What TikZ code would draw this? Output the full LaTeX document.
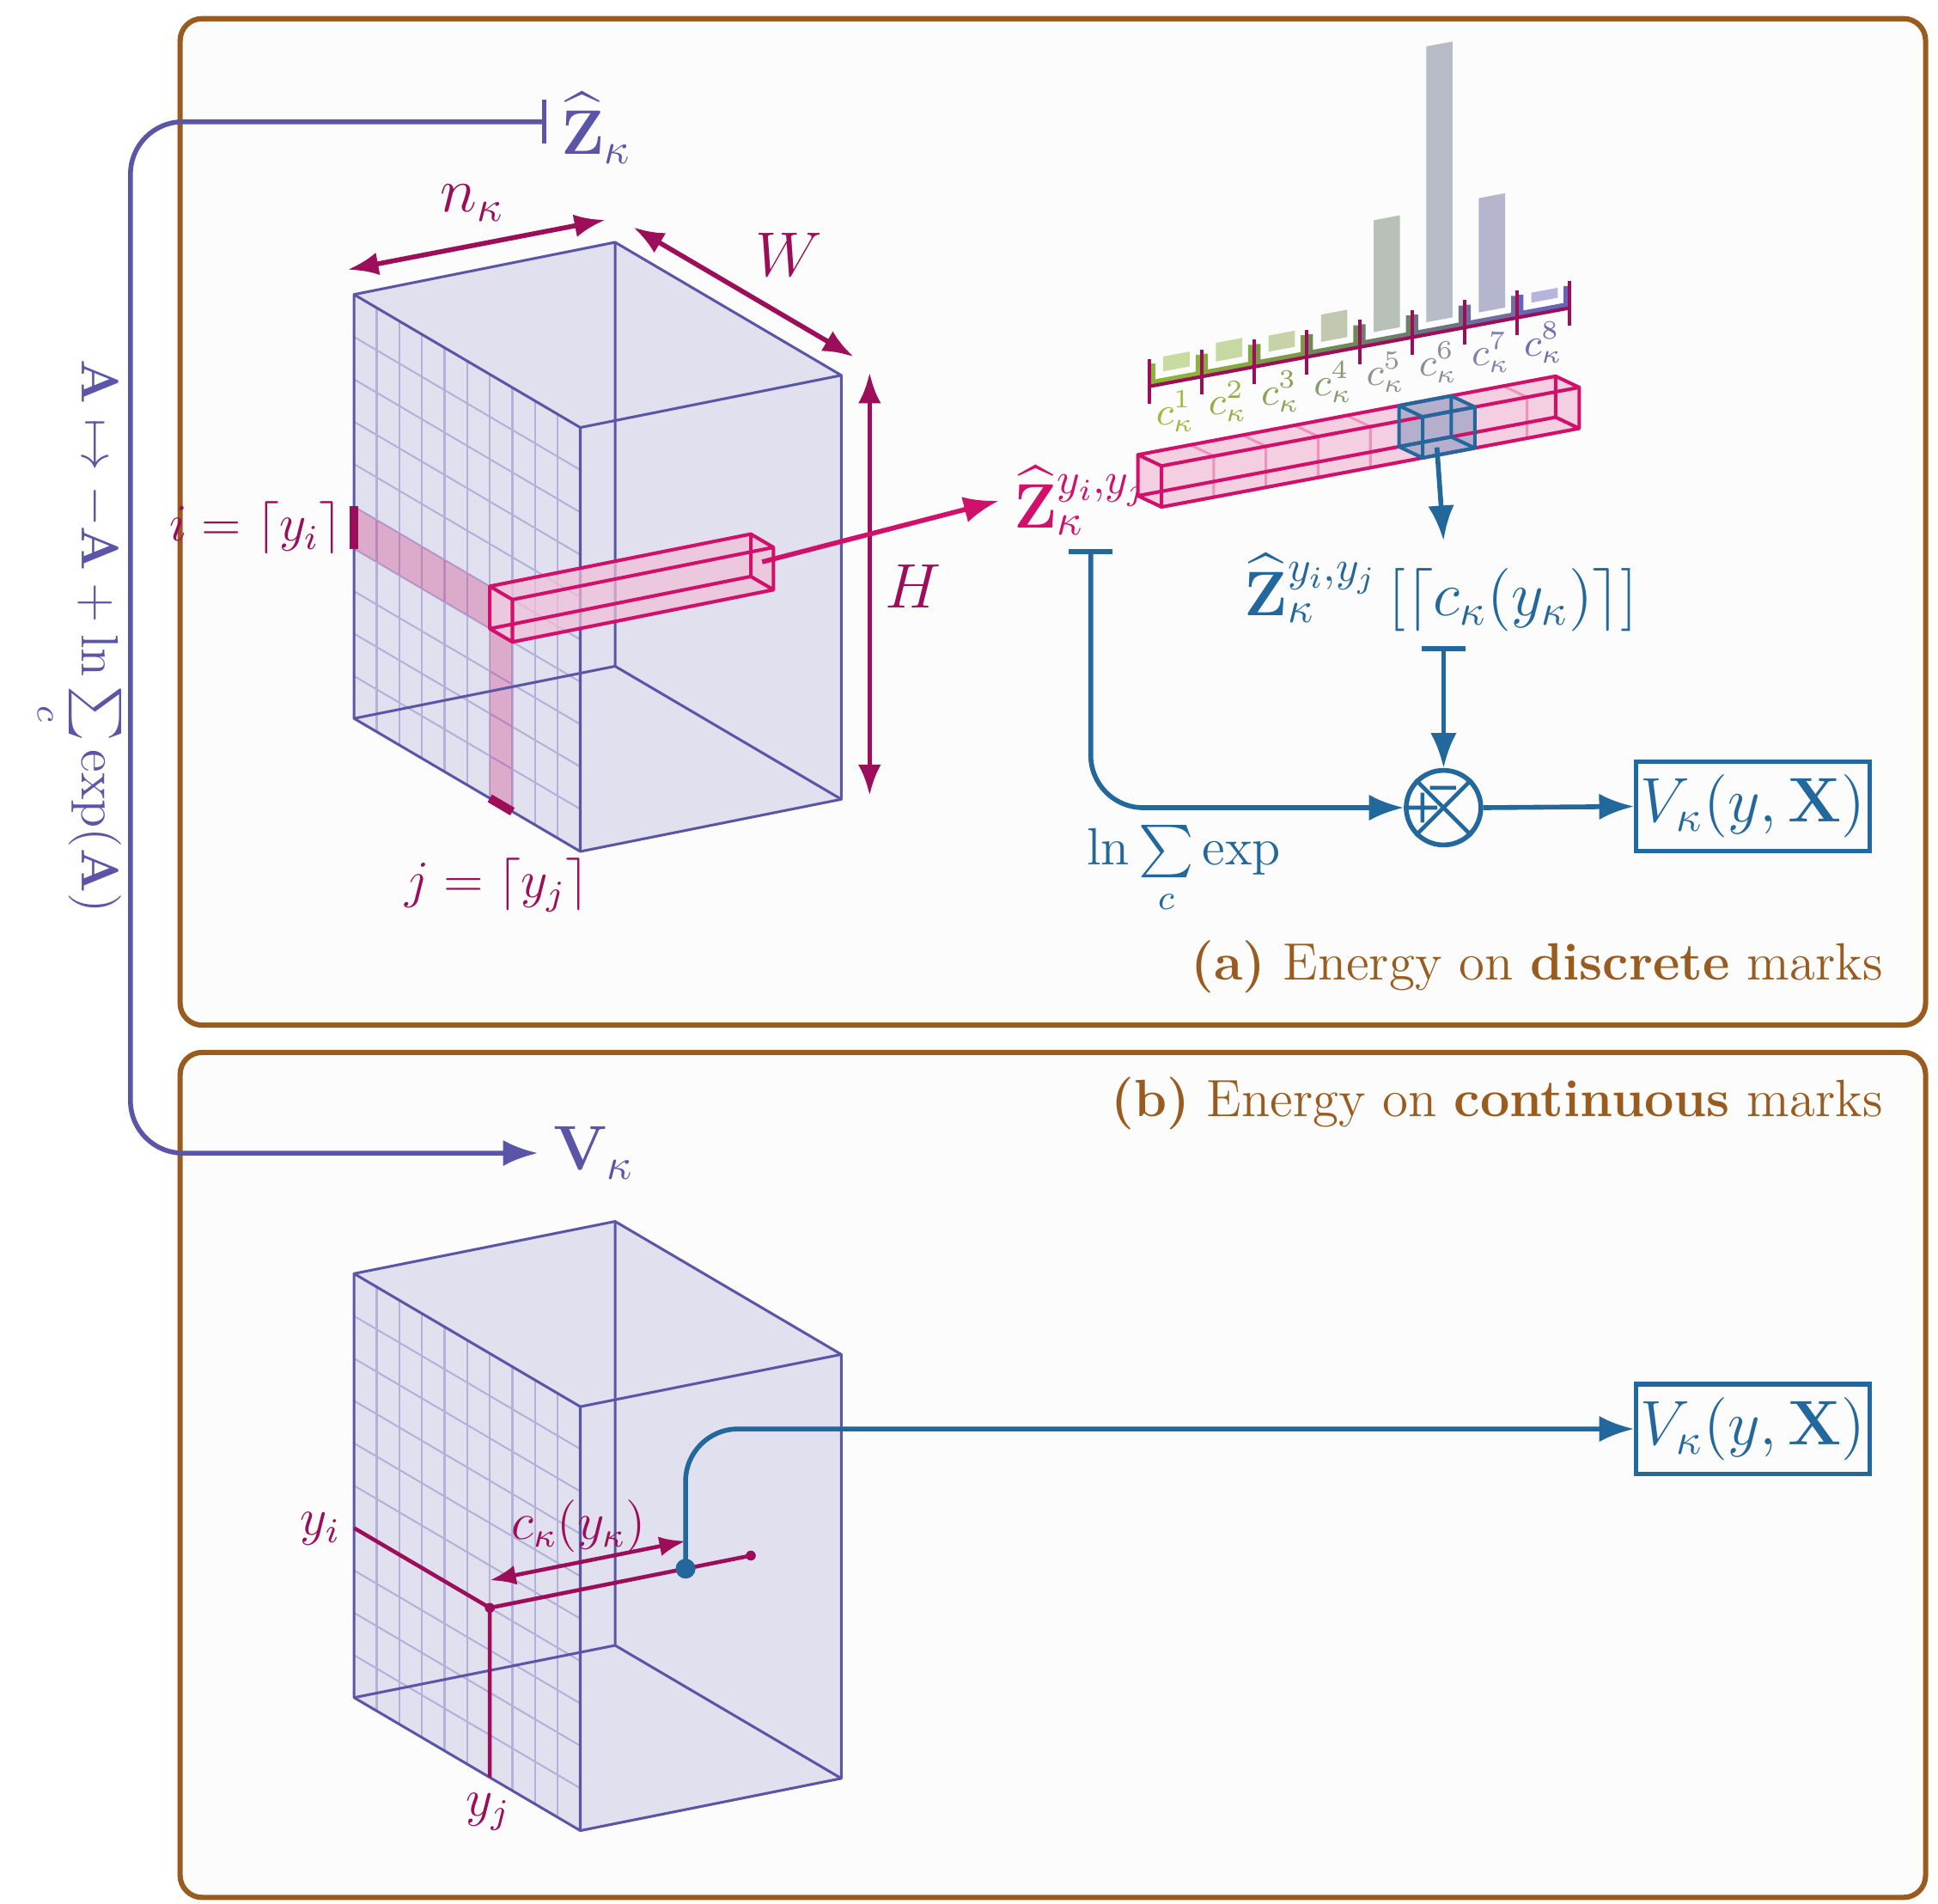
\documentclass[tikz,border=0pt]{standalone}
\usepackage{amsmath,amssymb}
\usetikzlibrary{arrows.meta,positioning,calc}
\definecolor{brownish}{HTML}{9A5B1F}
\definecolor{cubeedge}{HTML}{5B55A8}
\definecolor{cubefill}{HTML}{E1E0EE}
\definecolor{gridc}{HTML}{B3B0DA}
\definecolor{darkmag}{HTML}{9C0D5A}
\definecolor{brightmag}{HTML}{D0106A}
\definecolor{tubefill}{HTML}{F2BFD8}
\definecolor{blueish}{HTML}{23689C}
\tikzset{
  panel/.style={draw=brownish,line width=1.2pt,rounded corners=5pt,fill=black!1},
  cube/.style={draw=cubeedge,line width=0.6pt,line join=round},
  dimarrow/.style={darkmag,line width=1.1pt,{Latex[length=7pt]}-{Latex[length=7pt]}},
  flow/.style={blueish,line width=1.1pt,-{Latex[length=8pt]},rounded corners=12pt},
  vbox/.style={draw=blueish,line width=1pt,text=blueish,minimum width=1.87cm,minimum height=0.72cm,inner sep=1pt,font=\Large},
}
\newcommand\cubebody{%
  \fill[cubefill] (0,0,0) -- (10,0,0) -- (10,10,0) -- (0,10,0) -- cycle;
  \fill[cubefill] (0,0,0) -- (10,0,0) -- (10,0,1) -- (0,0,1) -- cycle;
  \fill[cubefill] (10,0,0) -- (10,10,0) -- (10,10,1) -- (10,0,1) -- cycle;
  \foreach \k in {1,...,9} {
    \draw[gridc,line width=0.4pt] (\k,0,0) -- (\k,10,0);
    \draw[gridc,line width=0.4pt] (0,\k,0) -- (10,\k,0);
  }
}
\newcommand\cubeedges{%
  \draw[cube] (0,0,0) -- (10,0,0) -- (10,10,0) -- (0,10,0) -- cycle;
  \draw[cube] (0,0,0) -- (0,0,1) -- (10,0,1) -- (10,0,0);
  \draw[cube] (10,0,1) -- (10,10,1) -- (10,10,0);
  \draw[cube] (0,0,1) -- (0,10,1) -- (10,10,1) (0,10,1) -- (0,10,0);
}
\begin{document}
\begin{tikzpicture}[x=0.01cm,y=-0.01cm]
  \useasboundingbox (0,0) rectangle (1560,1532);
  \draw[panel] (145,15) rectangle (1550,825);
  \draw[panel] (145,847) rectangle (1550,1527);
  \node[anchor=east,text=brownish,font=\large] (capa) at (1528,778) {\textbf{(a)} Energy on \textbf{discrete} marks};
  \node[anchor=east,text=brownish,font=\large] (capb) at (1528,888) {\textbf{(b)} Energy on \textbf{continuous} marks};

  % cube of panel (a)
  \begin{scope}[shift={(285,237)},x={(0.182cm,-0.107cm)},y={(0cm,-0.341cm)},z={(2.10cm,0.42cm)}]
    \cubebody
    \fill[brightmag,opacity=0.25] (0,5,0) -- (6,5,0) -- (6,6,0) -- (0,6,0) -- cycle;
    \fill[brightmag,opacity=0.25] (6,6,0) -- (7,6,0) -- (7,10,0) -- (6,10,0) -- cycle;
    \cubeedges
    \draw[darkmag,line width=2pt] (0,5,0) -- (0,6,0);
    \draw[darkmag,line width=2pt] (6,10,0) -- (7,10,0);
    \fill[tubefill,opacity=0.7] (6,5,0) -- (7,5,0) -- (7,6,0) -- (6,6,0) -- cycle;
    \fill[tubefill,opacity=0.7] (6,5,0) -- (6,5,1) -- (7,5,1) -- (7,5,0) -- cycle;
    \fill[tubefill,opacity=0.7] (7,5,0) -- (7,5,1) -- (7,6,1) -- (7,6,0) -- cycle;
    \draw[brightmag,line width=0.8pt,line join=round] (6,5,0) -- (7,5,0) -- (7,6,0) -- (6,6,0) -- cycle
      (6,5,0) -- (6,5,1) -- (7,5,1) -- (7,5,0) (7,5,1) -- (7,6,1) -- (7,6,0)
      (6,5,1) -- (6,6,1) -- (7,6,1) (6,6,1) -- (6,6,0);
    \coordinate (tubeend) at (6.5,5.5,1);
  \end{scope}
  \draw[dimarrow] (280,217) -- (487,177);
  \draw[dimarrow] (510,183) -- (687,287);
  \draw[dimarrow] (700,300) -- (700,640);
  \node[text=darkmag,font=\Large] (nk) at (380,163) {$n_\kappa$};
  \node[text=darkmag,font=\Large] (wl) at (635,205) {$W$};
  \node[text=darkmag,font=\Large] (hl) at (735,472) {$H$};
  \node[text=darkmag,font=\large,anchor=east,inner sep=1pt] (il) at (280,425) {$i=\lceil y_i\rceil$};
  \node[text=darkmag,font=\large] (jl) at (400,712) {$j=\lceil y_j\rceil$};

  % output tube
  \node[text=brightmag,font=\Large] (zij) at (870,403) {$\widehat{\mathbf{Z}}_\kappa^{y_i,y_j}$};
  \draw[brightmag,line width=1.1pt,-{Latex[length=8pt]}] (tubeend) -- (zij.west);
  \begin{scope}[shift={(935,408)},x={(0.42cm,0.079cm)},y={(0cm,0.33cm)},z={(-0.19cm,0.09cm)}]
    \fill[tubefill,opacity=0.75] (0,0,0) -- (8,0,0) -- (8,1,0) -- (0,1,0) -- cycle;
    \fill[tubefill,opacity=0.75] (0,1,0) -- (8,1,0) -- (8,1,1) -- (0,1,1) -- cycle;
    \fill[tubefill,opacity=0.75] (0,0,0) -- (0,1,0) -- (0,1,1) -- (0,0,1) -- cycle;
    \foreach \k in {1,...,7}
      \draw[brightmag!45,line width=0.6pt] (\k,0,0) -- (\k,1,0) -- (\k,1,1);
    \fill[blueish,opacity=0.3] (5,0,0) -- (6,0,0) -- (6,1,0) -- (6,1,1) -- (5,1,1) -- (5,0,1) -- cycle;
    \draw[brightmag,line width=0.8pt,line join=round] (0,0,0) -- (8,0,0) -- (8,1,0) -- (0,1,0) -- cycle
      (0,0,0) -- (0,0,1) -- (0,1,1) -- (0,1,0) (0,1,1) -- (8,1,1) -- (8,1,0)
      (0,0,1) -- (8,0,1) -- (8,1,1) (8,0,1) -- (8,0,0);
    \draw[blueish,line width=0.8pt,line join=round] (5,0,0) -- (6,0,0) -- (6,1,0) -- (5,1,0) -- cycle
      (5,0,1) -- (6,0,1) -- (6,1,1) -- (5,1,1) -- cycle
      (5,0,0) -- (5,0,1) (6,0,0) -- (6,0,1) (6,1,0) -- (6,1,1) (5,1,0) -- (5,1,1);
    \coordinate (cellbot) at (5.5,0,0.5);
  \end{scope}

  % histogram of the marks
  \begin{scope}[shift={(925,311)},x={(0.423cm,0.079cm)},y={(0cm,0.01cm)}]
    \foreach \k/\h/\barc/\edgec/\labc in {
        1/12/CADBA0/8DB33A/9BBB3A, 2/15/C8D8A2/86A840/93B040,
        3/13/C6D3A8/7E9A48/8AA352, 4/22/C0C9B0/6E8A58/869A6E,
        5/90/B8C0B8/6B8068/8A978A, 6/222/B8BCC6/6B7480/8A8E9A,
        7/92/B5B5CE/6E6EA0/7F81B0, 8/8/B4B4DC/6666B8/6D6CB0} {
      \definecolor{barc}{HTML}{\barc}
      \definecolor{edgec}{HTML}{\edgec}
      \definecolor{labc}{HTML}{\labc}
      \fill[barc] (\k-0.73,10) -- (\k-0.23,10) -- (\k-0.23,10+\h) -- (\k-0.73,10+\h) -- cycle;
      \draw[edgec,line width=1.6pt] (\k-0.95,18) -- (\k-0.95,2) -- (\k-0.05,2) -- (\k-0.05,18);
      \node[text=labc,font=\small,inner sep=1pt] (c\k) at (\k-0.5,-24) {$c_\kappa^{\k}$};
    }
    \draw[darkmag,line width=0.8pt] (0,0) -- (8,0);
    \foreach \k in {0,...,8}
      \draw[darkmag,line width=0.8pt] (\k,-14) -- (\k,22);
  \end{scope}

  % discrete energy flow
  \node[text=blueish,font=\Large] (zsel) at (1160,477) {$\widehat{\mathbf{Z}}_\kappa^{y_i,y_j}\,[\lceil c_\kappa(y_\kappa)\rceil]$};
  \draw[blueish,line width=1.1pt,-{Latex[length=8pt]}] (cellbot) -- (1162,435);
  \node[draw=blueish,line width=1.1pt,circle,minimum size=0.6cm] (comb) at (1162,650) {};
  \draw[blueish,line width=0.9pt] (comb.north west) -- (comb.south east) (comb.north east) -- (comb.south west)
    (comb.west) -- ($(comb.center)+(-5,0)$)
    ($(comb.center)+(-17,-12)$) -- ($(comb.center)+(-17,12)$)
    ($(comb.center)+(-11,-16)$) -- ($(comb.center)+(10,-16)$);
  \coordinate (zbar) at (878,442);
  \coordinate (selbar) at (1162,520);
  \draw[flow,{Bar[width=10pt]}-{Latex[length=8pt]}] (zbar) |- (comb.west);
  \draw[flow,{Bar[width=10pt]}-{Latex[length=8pt]}] (selbar) -- (comb.north);
  \node[text=blueish,font=\large] (lse) at (953,700) {$\ln\sum\limits_c\exp$};
  \node[vbox] (va) at (1411,649) {$V_\kappa(y,\mathbf{X})$};
  \draw[flow] (comb.east) -- (va.west);

  % transformation between panels
  \node[text=cubeedge,font=\Large] (zk) at (480,103) {$\widehat{\mathbf{Z}}_\kappa$};
  \node[text=cubeedge,font=\Large] (vk) at (478,928) {$\mathbf{V}_\kappa$};
  \coordinate (zstart) at (440,98);
  \coordinate (bend) at (105,0);
  \draw[cubeedge,line width=1.1pt,rounded corners=12pt,{Bar[width=10pt]}-{Latex[length=8pt]}] (zstart) -| (bend |- vk.west) -- (vk.west);
  \node[text=cubeedge,font=\large,rotate=-90] (trans) at (62,512) {$\mathbf{A}\mapsto-\mathbf{A}+\ln\sum\limits_c\exp(\mathbf{A})$};

  % cube of panel (b)
  \begin{scope}[shift={(285,1025)},x={(0.182cm,-0.107cm)},y={(0cm,-0.341cm)},z={(2.10cm,0.42cm)}]
    \cubebody
    \cubeedges
    \coordinate (yil) at (0,6,0);
    \coordinate (yij) at (6,6,0);
    \coordinate (yjl) at (6,10,0);
    \coordinate (ydeep) at (6,6,1);
    \coordinate (cpt) at (6,6,0.75);
    \coordinate (carr1) at (6,5.35,0.75);
    \coordinate (carr0) at (6,5.35,0);
  \end{scope}
  \draw[darkmag,line width=0.9pt] (yil) -- (yij) -- (yjl) (yij) -- (ydeep);
  \fill[darkmag] (yij) circle (4) (ydeep) circle (4);
  \draw[darkmag,line width=0.9pt,{Latex[length=6pt]}-{Latex[length=6pt]}] (carr0) -- (carr1);
  \node[text=darkmag,font=\large] (ckl) at (466,1228) {$c_\kappa(y_\kappa)$};
  \node[text=darkmag,font=\large] (yilab) at (258,1230) {$y_i$};
  \node[text=darkmag,font=\large] (yjlab) at (393,1458) {$y_j$};
  \node[vbox] (vb) at (1411,1150) {$V_\kappa(y,\mathbf{X})$};
  \draw[flow] (cpt) |- (vb.west);
  \fill[blueish] (cpt) circle (8);
\end{tikzpicture}
\end{document}
